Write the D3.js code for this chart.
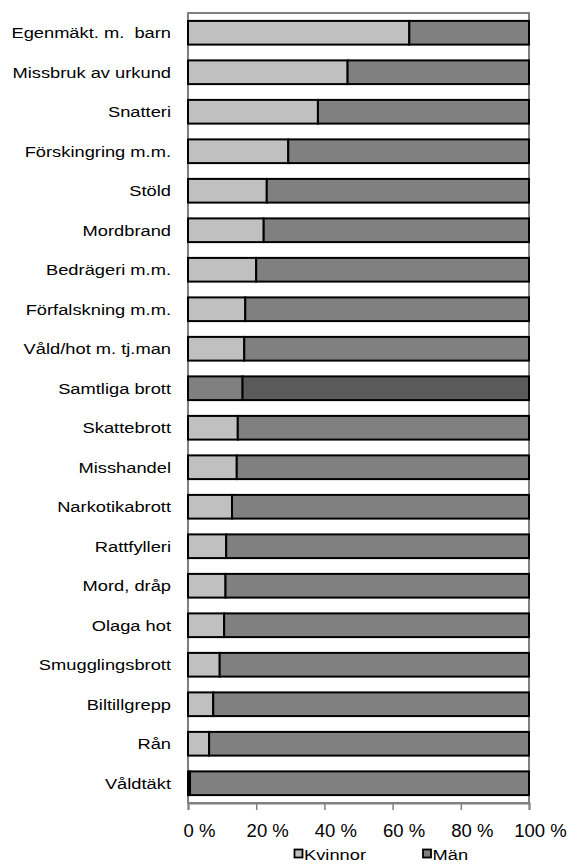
<!DOCTYPE html>
<html>
<head>
<meta charset="utf-8">
<script src="https://cdn.jsdelivr.net/npm/d3@7"></script>
<style>
  body { margin: 0; background: #fff; }
  text { font-family: "Liberation Sans", Arial, sans-serif; fill: #000; }
</style>
</head>
<body>
<div id="chart"></div>
<script>
// kategorier, uppifrån och ned
var categories = ['Egenmäkt. m.  barn', 'Missbruk av urkund', 'Snatteri', 'Förskingring m.m.', 'Stöld',
    'Mordbrand', 'Bedrägeri m.m.', 'Förfalskning m.m.', 'Våld/hot m. tj.man', 'Samtliga brott',
    'Skattebrott', 'Misshandel', 'Narkotikabrott', 'Rattfylleri', 'Mord, dråp',
    'Olaga hot', 'Smugglingsbrott', 'Biltillgrepp', 'Rån', 'Våldtäkt']
// andel kvinnor (%), resten är män
var kvinnor = [64.9, 46.8, 38.1, 29.4, 23.1, 22.2, 20.0, 16.8, 16.5, 16.0,
    14.6, 14.3, 12.9, 11.2, 11.0, 10.6, 9.3, 7.4, 6.2, 0.6]
var man = kvinnor.map(function (d) { return 100 - d })
var seriesNames = ['Kvinnor', 'Män']
var xTicks = [0, 20, 40, 60, 80, 100]

var width = 573
var height = 865
var plotLeft = 188
var plotRight = 529
var plotTop = 13
var plotBottom = 803
var stretch = 1.22   // texten i originalet är utdragen på bredden

var colors = { Kvinnor: '#c0c0c0', 'Män': '#808080' }
var totalColors = { Kvinnor: '#808080', 'Män': '#5a5a5a' }

var svg = d3.select('#chart').append('svg')
    .attr('width', width)
    .attr('height', height)

var X = d3.scaleLinear().domain([0, 100]).range([plotLeft, plotRight])
var Y = d3.scaleBand().domain(categories).range([plotTop, plotBottom])
    .paddingInner(0.4).paddingOuter(0.2)

// ram runt ritytan
svg.append('rect')
    .attr('x', plotLeft)
    .attr('y', plotTop)
    .attr('width', plotRight - plotLeft)
    .attr('height', plotBottom - plotTop)
    .attr('fill', 'none')
    .attr('stroke', '#808080')
    .attr('stroke-width', 2)

var rows = categories.map(function (c, i) {
    return { cat: c, Kvinnor: kvinnor[i], 'Män': man[i] }
})
var stacked = d3.stack().keys(seriesNames)(rows)

var layers = svg.append('g').selectAll('g')
    .data(stacked)
    .enter()
    .append('g')

layers.selectAll('rect')
    .data(function (s) { return s.map(function (d) { return { key: s.key, d: d } }) })
    .enter()
    .append('rect')
    .attr('x', function (o) { return X(o.d[0]) })
    .attr('y', function (o) { return Y(o.d.data.cat) })
    .attr('width', function (o) { return X(o.d[1]) - X(o.d[0]) })
    .attr('height', Y.bandwidth())
    .attr('fill', function (o) {
        return o.d.data.cat === 'Samtliga brott' ? totalColors[o.key] : colors[o.key]
    })
    .attr('stroke', '#000')
    .attr('stroke-width', 2)

// x-axel
var axis = svg.append('g')
    .attr('transform', 'translate(0,' + plotBottom + ')')
    .call(d3.axisBottom(X).tickValues(xTicks).tickSize(7).tickFormat(function (d) { return d + ' %' }))
axis.select('.domain').attr('stroke', '#808080').attr('stroke-width', 2)
axis.selectAll('.tick line').attr('stroke', '#808080').attr('stroke-width', 1.5)
axis.selectAll('.tick text')
    .attr('font-size', 18.5)
    .attr('font-family', '"Liberation Sans", Arial, sans-serif')
    .attr('fill', '#000')
    .attr('x', 11)
    .attr('y', 34)
    .attr('dy', 0)

// kategorietiketter
svg.append('g').selectAll('text')
    .data(categories)
    .enter()
    .append('text')
    .attr('transform', function (d) {
        return 'translate(171,' + (Y(d) + Y.bandwidth() / 2 + 5.3) + ') scale(' + stretch + ',1)'
    })
    .attr('text-anchor', 'end')
    .attr('font-size', 15)
    .style('white-space', 'pre')
    .text(function (d) { return d })

// förklaring
var legendX = [294, 422.5]
var legend = svg.append('g').selectAll('g')
    .data(seriesNames)
    .enter()
    .append('g')
    .attr('transform', function (d, i) { return 'translate(' + legendX[i] + ',849)' })
legend.append('rect')
    .attr('x', 0.5)
    .attr('y', 0.5)
    .attr('width', 8)
    .attr('height', 8)
    .attr('fill', function (d) { return colors[d] })
    .attr('stroke', '#000')
    .attr('stroke-width', 1.8)
legend.append('text')
    .attr('transform', 'translate(10,10.5) scale(' + stretch + ',1)')
    .attr('font-size', 15)
    .text(function (d) { return d })
</script>
</body>
</html>
